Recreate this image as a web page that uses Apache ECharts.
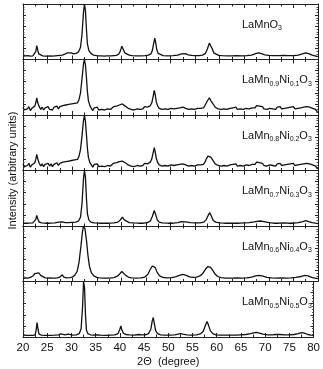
<!DOCTYPE html>
<html>
<head>
<meta charset="utf-8">
<script src="https://cdn.jsdelivr.net/npm/echarts@6/dist/echarts.min.js"></script>
<style>
html,body{margin:0;padding:0;background:#fff;}
#c{width:323px;height:369px;}
</style>
</head>
<body>
<div id="c"></div>
<script>
// Sample labels (rich text parts: [text, isSubscript])
const sampleLabels = [
  [["LaMn",0],["O",0],["3",1]],
  [["LaMn",0],["0.9",1],["Ni",0],["0.1",1],["O",0],["3",1]],
  [["LaMn",0],["0.8",1],["Ni",0],["0.2",1],["O",0],["3",1]],
  [["LaMn",0],["0.7",1],["Ni",0],["0.3",1],["O",0],["3",1]],
  [["LaMn",0],["0.6",1],["Ni",0],["0.4",1],["O",0],["3",1]],
  [["LaMn",0],["0.5",1],["Ni",0],["0.5",1],["O",0],["3",1]]
];
const xTickLabels = [20,25,30,35,40,45,50,55,60,65,70,75,80];
const xTitle = "2\u0398  (degree)";
const yTitle = "Intensity (arbitrary units)";

// [2theta, relative intensity] per sample
const sLaMnO3 = [[20,7],[20.5,6.5],[21,7],[21.5,6],[22,6.5],[22.4,8],[22.6,14],[22.8,25],[23.0,17],[23.2,10],[23.5,7],[24,6.5],[24.5,6],[25,6],[25.5,6.5],[26,6],[26.5,6.5],[27,7],[27.5,7.5],[28,8],[28.5,9.5],[29,12],[29.4,14.5],[29.8,12],[30.3,10],[30.8,11],[31.3,14],[31.7,22],[32.0,45],[32.3,85],[32.5,100],[32.7,88],[32.9,55],[33.1,28],[33.4,16],[33.8,11],[34.3,8],[35,7],[35.5,6.5],[36,6.5],[36.5,6],[37,6.5],[37.5,6.5],[38,6.5],[38.5,7],[39,7.5],[39.5,10],[39.8,15],[40.1,24],[40.4,18],[40.7,12],[41.1,9],[41.6,8],[42.2,7],[43,6.5],[44,6.5],[44.8,7],[45.5,8],[46,10],[46.3,16],[46.6,30],[46.8,38.5],[47.0,30],[47.2,18],[47.5,11],[47.9,8],[48.5,7],[49.5,6.5],[50.5,7],[51.5,8],[52.2,10],[52.6,11.5],[53,10.5],[53.6,8.5],[54.3,7.5],[55,7],[55.8,7],[56.5,8],[57.1,11],[57.5,19],[57.9,29.5],[58.2,27],[58.5,19],[58.8,12],[59.2,9],[59.8,7.5],[60.5,7],[61.5,6.5],[62.5,6.5],[63.5,7],[64.5,6.5],[65.5,7],[66.5,8],[67.3,10.5],[67.9,12],[68.5,10.5],[69.2,8.5],[70,7.5],[71,7],[72,7],[73,7.5],[74,7],[75,7],[76,8],[76.8,10],[77.5,12],[78.1,10.5],[78.8,8],[79.4,6.5],[80,5]];

const sNi01 = [[20.0,14],[20.3,9],[20.6,6],[20.9,11],[21.2,15],[21.5,8],[21.8,12],[22.1,10],[22.4,16],[22.6,22],[22.8,31],[23.0,22],[23.3,15],[23.6,10],[23.9,14],[24.2,9],[24.5,13],[24.8,11],[25.1,15],[25.4,10],[25.7,13],[26.0,9],[26.3,14],[26.6,12],[26.9,16],[27.2,11],[27.5,15],[27.8,13],[28.1,17],[28.4,14],[28.7,18],[29.0,15],[29.3,19],[29.6,16],[29.9,20],[30.2,17],[30.5,21],[30.8,18],[31.1,22],[31.4,28],[31.7,40],[32.0,65],[32.3,92],[32.5,100],[32.7,90],[32.9,68],[33.1,42],[33.3,26],[33.6,17],[33.9,12],[34.2,8],[34.5,13],[34.8,10],[35.1,14],[35.4,9],[35.7,12],[36.0,10],[36.3,13],[36.6,9],[36.9,12],[37.2,11],[37.5,14],[37.8,10],[38.1,13],[38.4,15],[38.7,12],[39.0,16],[39.3,14],[39.6,18],[39.9,17],[40.2,20],[40.5,19],[40.8,16],[41.1,17],[41.4,12],[41.7,14],[42.0,10],[42.3,13],[42.6,9],[42.9,12],[43.2,11],[43.5,14],[43.8,10],[44.1,13],[44.4,11],[44.7,15],[45.0,12],[45.3,14],[45.6,13],[45.9,17],[46.2,22],[46.5,35],[46.7,44.5],[46.9,36],[47.1,24],[47.4,16],[47.7,12],[48.0,14],[48.3,10],[48.6,13],[48.9,11],[49.2,14],[49.5,10],[49.8,13],[50.1,12],[50.4,15],[50.7,11],[51.0,14],[51.3,12],[51.6,15],[51.9,13],[52.2,16],[52.5,14],[52.8,15],[53.1,12],[53.4,14],[53.7,10],[54.0,13],[54.3,11],[54.6,14],[54.9,10],[55.2,13],[55.5,12],[55.8,15],[56.1,12],[56.4,14],[56.7,13],[57.0,17],[57.3,22],[57.6,27],[57.9,31],[58.2,26],[58.5,22],[58.8,18],[59.1,14],[59.4,15],[59.7,11],[60.0,14],[60.3,10],[60.6,13],[60.9,11],[61.2,14],[61.5,10],[61.8,13],[62.1,12],[62.4,9],[62.7,13],[63.0,11],[63.3,14],[63.6,10],[63.9,12],[64.2,11],[64.5,14],[64.8,10],[65.1,13],[65.4,12],[65.7,15],[66.0,11],[66.3,14],[66.6,13],[66.9,16],[67.2,13],[67.5,17],[67.8,14],[68.1,16],[68.4,13],[68.7,15],[69.0,11],[69.3,14],[69.6,10],[69.9,13],[70.2,12],[70.5,15],[70.8,11],[71.1,13],[71.4,10],[71.7,14],[72.0,12],[72.3,15],[72.6,11],[72.9,14],[73.2,12],[73.5,10],[73.8,13],[74.1,11],[74.4,14],[74.7,12],[75.0,15],[75.3,11],[75.6,13],[75.9,12],[76.2,15],[76.5,13],[76.8,16],[77.1,14],[77.4,17],[77.7,15],[78.0,13],[78.3,14],[78.6,11],[78.9,12],[79.2,9],[79.5,10],[79.8,6],[80.0,5]];

const sNi02 = [[20.0,12],[20.3,7],[20.6,4],[20.9,9],[21.2,13],[21.5,6],[21.8,10],[22.1,8],[22.4,14],[22.6,20],[22.8,29],[23.0,21],[23.3,13],[23.6,8],[23.9,12],[24.2,7],[24.5,11],[24.8,9],[25.1,13],[25.4,8],[25.7,12],[26.0,7],[26.3,11],[26.6,10],[26.9,14],[27.2,9],[27.5,13],[27.8,11],[28.1,15],[28.4,12],[28.7,16],[29.0,13],[29.3,17],[29.6,14],[29.9,18],[30.2,15],[30.5,19],[30.8,16],[31.1,20],[31.4,26],[31.7,38],[32.0,62],[32.3,90],[32.5,100],[32.7,88],[32.9,65],[33.1,40],[33.3,24],[33.6,14],[33.9,10],[34.2,6],[34.5,11],[34.8,8],[35.1,12],[35.4,7],[35.7,10],[36.0,8],[36.3,11],[36.6,7],[36.9,10],[37.2,9],[37.5,12],[37.8,8],[38.1,11],[38.4,13],[38.7,10],[39.0,14],[39.3,12],[39.6,16],[39.9,15],[40.2,17],[40.5,16],[40.8,14],[41.1,15],[41.4,10],[41.7,12],[42.0,8],[42.3,11],[42.6,7],[42.9,10],[43.2,9],[43.5,12],[43.8,8],[44.1,11],[44.4,9],[44.7,13],[45.0,10],[45.3,12],[45.6,11],[45.9,15],[46.2,21],[46.5,33],[46.7,41],[46.9,33],[47.1,22],[47.4,14],[47.7,10],[48.0,12],[48.3,8],[48.6,11],[48.9,9],[49.2,12],[49.5,8],[49.8,11],[50.1,10],[50.4,13],[50.7,9],[51.0,12],[51.3,10],[51.6,13],[51.9,11],[52.2,14],[52.5,12],[52.8,13],[53.1,10],[53.4,12],[53.7,8],[54.0,11],[54.3,9],[54.6,12],[54.9,8],[55.2,11],[55.5,10],[55.8,13],[56.1,10],[56.4,12],[56.7,11],[57.0,15],[57.3,21],[57.6,26],[57.9,29],[58.2,24],[58.5,20],[58.8,16],[59.1,12],[59.4,13],[59.7,9],[60.0,12],[60.3,8],[60.6,11],[60.9,9],[61.2,12],[61.5,8],[61.8,11],[62.1,10],[62.4,7],[62.7,11],[63.0,9],[63.3,12],[63.6,8],[63.9,10],[64.2,9],[64.5,12],[64.8,8],[65.1,11],[65.4,10],[65.7,13],[66.0,9],[66.3,12],[66.6,11],[66.9,14],[67.2,11],[67.5,15],[67.8,12],[68.1,14],[68.4,11],[68.7,13],[69.0,9],[69.3,12],[69.6,8],[69.9,11],[70.2,10],[70.5,13],[70.8,9],[71.1,11],[71.4,8],[71.7,12],[72.0,10],[72.3,13],[72.6,9],[72.9,12],[73.2,10],[73.5,8],[73.8,11],[74.1,9],[74.4,12],[74.7,10],[75.0,13],[75.3,9],[75.6,11],[75.9,10],[76.2,13],[76.5,11],[76.8,14],[77.1,12],[77.4,15],[77.7,13],[78.0,11],[78.3,12],[78.6,9],[78.9,10],[79.2,7],[79.5,8],[79.8,4],[80.0,3]];

const sNi03 = [[20,5],[21,5],[22,5.5],[22.4,7],[22.6,12],[22.8,19],[23.0,13],[23.3,7],[23.8,5.5],[24.5,5],[25.5,5],[26.5,5.5],[27.2,7],[27.6,9],[28.0,7.5],[28.6,6],[29.3,6],[30,6.5],[30.7,7],[31.3,9],[31.7,16],[32.0,40],[32.3,85],[32.5,100],[32.7,88],[32.9,50],[33.1,22],[33.4,11],[33.8,7],[34.5,5.5],[35.5,5],[36.5,5],[37.5,5],[38.5,5.5],[39.3,7],[39.8,11],[40.2,16],[40.6,11],[41.0,7.5],[41.6,6],[42.5,5.5],[43.5,5],[44.5,5],[45.3,6],[45.9,9],[46.3,17],[46.7,28],[47.0,20],[47.3,11],[47.7,7],[48.3,5.5],[49.5,5],[50.5,5],[51.5,6],[52.2,8],[52.6,9],[53.1,7.5],[54,6],[55,5.5],[56,5.5],[56.8,7],[57.3,12],[57.7,20],[58.0,24],[58.3,18],[58.7,10],[59.2,7],[60,5.5],[61,5],[62,5],[63,5],[64,5],[65,5.5],[66,6],[67,7.5],[67.6,8.5],[68.3,9],[69,8],[70,6],[71,5],[72,5],[73,5.5],[74,5],[75,5],[76,6],[76.9,8],[77.5,9.5],[78.1,8],[78.8,6],[79.5,5],[80,4.5]];

const sNi04 = [[20,6],[20.5,6.5],[21,6],[21.5,7.5],[22,10],[22.4,14],[22.8,17],[23.2,15.5],[23.6,11],[24,8],[24.5,6.5],[25,6],[25.5,6.5],[26,6],[26.5,6],[27,6.5],[27.5,8],[28,12],[28.3,8],[28.8,6.5],[29.5,7],[30,8],[30.5,11],[31,18],[31.4,35],[31.8,65],[32.1,90],[32.3,100],[32.6,95],[32.9,75],[33.2,48],[33.5,28],[33.9,16],[34.4,10],[35,7.5],[35.5,6.5],[36.5,6],[37.5,6],[38.5,7],[39.2,9.5],[39.7,14],[40.1,18],[40.5,16],[40.9,11],[41.4,8],[42,6.5],[43,6],[44,6.5],[44.8,8],[45.4,13],[45.9,22],[46.3,28],[46.6,29],[46.9,25],[47.3,16],[47.8,10],[48.4,7.5],[49.2,6.5],[50.2,7],[51,8.5],[51.8,11],[52.5,13],[53.2,11],[53.9,8.5],[54.6,7.5],[55.3,8],[56,10],[56.6,15],[57.1,22],[57.6,27],[58.1,26],[58.6,20],[59.1,13],[59.6,9],[60.3,7],[61.2,6],[62.5,6],[63.5,6.5],[64.5,6],[65.5,6.5],[66.5,8],[67.3,10],[68,11],[68.8,9.5],[69.6,7.5],[70.5,6.5],[71.5,6],[72.5,6.5],[73.5,6],[74.5,6.5],[75.5,7.5],[76.5,9],[77.3,11],[78,10],[78.7,7.5],[79.4,6],[80,5]];

const sNi05 = [[20,3.5],[21,3],[22,3],[22.5,4],[22.7,12],[22.9,26],[23.1,14],[23.3,5],[23.8,3.5],[24.5,3],[25.5,3],[26.5,3.5],[27.3,4],[27.8,5.5],[28.2,4.5],[28.7,4],[29.3,5],[29.7,4],[30.3,3.5],[31,4],[31.6,6],[32.0,15],[32.3,55],[32.5,100],[32.7,90],[32.9,40],[33.1,12],[33.4,6],[33.9,4],[34.5,3.5],[35.3,4],[36,3.5],[37,3],[38,3.5],[39,4],[39.6,6],[40.0,14],[40.2,20],[40.4,13],[40.7,7],[41.2,4.5],[42,4],[43,3.5],[43.8,4.5],[44.5,4],[45.3,4],[45.9,6],[46.4,14],[46.7,30],[46.9,35],[47.1,25],[47.4,11],[47.8,6],[48.4,4],[49.3,3.5],[50.3,3.5],[51.3,4],[52,5],[52.5,6],[53,5],[53.8,4],[54.8,3.5],[55.8,4],[56.6,5.5],[57.2,10],[57.7,22],[58.0,28],[58.3,21],[58.7,11],[59.2,6],[59.8,4],[60.8,3.5],[62,3.5],[63,3.5],[64,3.5],[65,4],[66,4.5],[67,6],[67.6,7.5],[68.2,8.5],[68.8,7],[69.5,5],[70.5,4],[71.5,4],[72.1,4.5],[72.5,5.5],[73,4.5],[74,4],[75,4],[76,4.5],[76.8,6],[77.5,8],[78.1,7],[78.8,4.5],[79.5,3.5],[80,3]];

const seriesData = [sLaMnO3, sNi01, sNi02, sNi03, sNi04, sNi05];

const chart = echarts.init(document.getElementById('c'), null, {renderer:'canvas'});
const FONT = 'Liberation Sans, Arial, sans-serif';
const left = 23, right = 5, top0 = 4, bottom = 337;
const n = seriesData.length;
const h = (bottom - top0) / n;

const grid = [], xAxis = [], yAxis = [], series = [], graphic = [];
const axisLineStyle = {color:'#222', width:1};
for (let i = 0; i < n; i++) {
  grid.push({left:left, right:right, top: top0 + i*h, height: h, containLabel:false});
  const xBase = {
    gridIndex:i, type:'value', min:xTickLabels[0], max:xTickLabels[xTickLabels.length-1], interval:5,
    axisLine:{show:true, onZero:false, lineStyle:axisLineStyle},
    axisTick:{show:true, inside:true, length:4, lineStyle:axisLineStyle},
    minorTick:{show:true, splitNumber:2, length:2.5, lineStyle:{color:'#222', width:1}},
    splitLine:{show:false}
  };
  xAxis.push(Object.assign({}, xBase, {
    position:'bottom',
    axisLabel:{show: i === n-1, fontSize:11.5, color:'#111', margin:5, fontFamily:FONT},
    name: i === n-1 ? xTitle : '', nameLocation:'middle', nameGap:19,
    nameTextStyle:{fontSize:11, color:'#111', fontFamily:FONT}
  }));
  xAxis.push(Object.assign({}, xBase, {position:'top', axisLabel:{show:false}}));
  const yBase = {
    gridIndex:i, type:'value', min:0, max:100, interval:20,
    axisLine:{show:true, lineStyle:axisLineStyle},
    axisTick:{show:true, inside:true, length:3, lineStyle:axisLineStyle},
    minorTick:{show:true, splitNumber:4, length:1.5, lineStyle:{color:'#444', width:1}},
    splitLine:{show:false}, axisLabel:{show:false}
  };
  yAxis.push(Object.assign({}, yBase, {position:'left'}));
  yAxis.push(Object.assign({}, yBase, {position:'right'}));
  series.push({
    type:'line', xAxisIndex:2*i, yAxisIndex:2*i, data:seriesData[i],
    showSymbol:false, symbol:'none', clip:true, silent:true,
    lineStyle:{color:'#111', width:1.3}
  });
  graphic.push({
    type:'text', left:242, top: top0 + i*h + 15,
    style:{
      text: sampleLabels[i].map(p => p[1] ? '{s|' + p[0] + '}' : '{n|' + p[0] + '}').join(''),
      fill:'#111',
      rich:{
        n:{fontSize:11, fontFamily:FONT, fill:'#111', lineHeight:15, verticalAlign:'middle'},
        s:{fontSize:7, fontFamily:FONT, fill:'#111', lineHeight:8, verticalAlign:'bottom'}
      }
    }
  });
}
graphic.push({
  type:'text', x:13, y:(top0+bottom)/2, rotation:Math.PI/2,
  style:{text:yTitle, fill:'#111', font:'11px ' + FONT, align:'center', verticalAlign:'middle'}
});

chart.setOption({
  animation:false,
  backgroundColor:'#fff',
  grid:grid, xAxis:xAxis, yAxis:yAxis, series:series, graphic:graphic
});
</script>
</body>
</html>
